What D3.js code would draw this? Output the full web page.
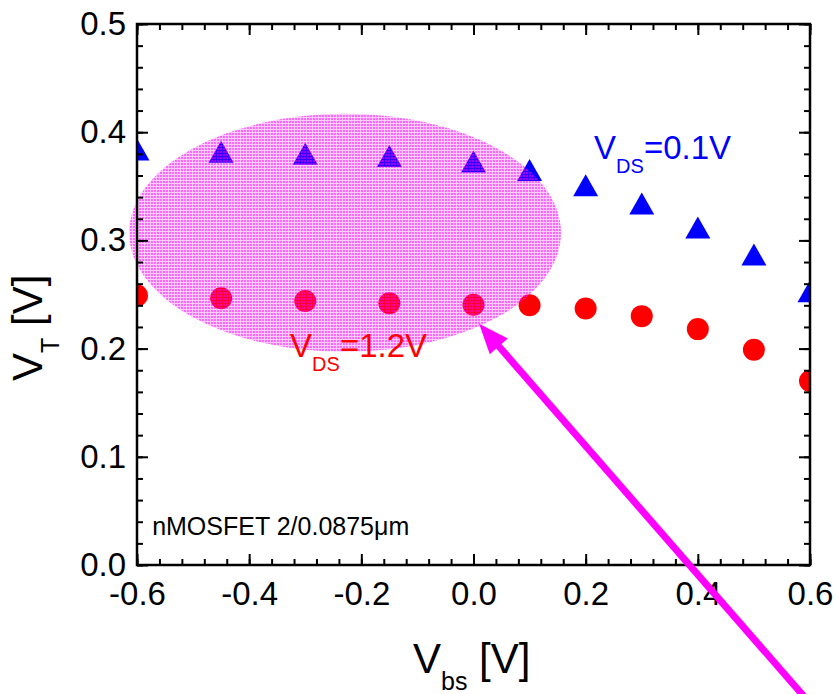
<!DOCTYPE html>
<html lang="en">
<head>
    <meta charset="UTF-8">
    <script src="https://d3js.org/d3.v7.min.js"></script>
    <title>VT vs Vbs</title>
    <style>
        body { margin: 0; background: #fff; }
        text { font-family: "Liberation Sans", Arial, sans-serif; }
    </style>
</head>
<body>
<svg class="chart"></svg>

<script>
    // body bias sweep and threshold voltages
    let vbs = [-0.6, -0.45, -0.3, -0.15, 0.0, 0.1, 0.2, 0.3, 0.4, 0.5, 0.6];
    let vtLowVds = [0.384, 0.382, 0.380, 0.378, 0.373, 0.365, 0.351, 0.334, 0.312, 0.287, 0.253];
    let vtHighVds = [0.249, 0.2465, 0.244, 0.242, 0.2405, 0.240, 0.237, 0.230, 0.218, 0.199, 0.170];

    let xTicks = [-0.6, -0.4, -0.2, 0.0, 0.2, 0.4, 0.6];
    let xTickLabels = ["-0.6", "-0.4", "-0.2", "0.0", "0.2", "0.4", "0.6"];
    let yTicks = [0.0, 0.1, 0.2, 0.3, 0.4, 0.5];
    let yTickLabels = ["0.0", "0.1", "0.2", "0.3", "0.4", "0.5"];

    // highlight ellipse and arrow, in data units
    let ellipse = {cx: -0.229, cy: 0.307, rx: 0.385, ry: 0.110};
    let arrowFrom = [0.612, -0.135];
    let arrowTo = [0.010, 0.223];

    let chart_width = 836, chart_height = 694;
    let plotLeft = 137, plotRight = 810, plotTop = 24, plotBottom = 565;

    let x = d3.scaleLinear().domain([-0.6, 0.6]).range([plotLeft, plotRight]);
    let y = d3.scaleLinear().domain([0, 0.5]).range([plotBottom, plotTop]);

    let svg = d3.select('.chart').attr('width', chart_width).attr('height', chart_height);

    let defs = svg.append('defs');
    defs.append('clipPath').attr('id', 'plotClip')
        .append('rect')
        .attr('x', plotLeft).attr('y', plotTop)
        .attr('width', plotRight - plotLeft).attr('height', plotBottom - plotTop);

    let mesh = defs.append('pattern').attr('id', 'mesh')
        .attr('patternUnits', 'userSpaceOnUse')
        .attr('width', 3).attr('height', 3);
    mesh.append('rect').attr('width', 3).attr('height', 3)
        .attr('fill', '#ff00ff').attr('fill-opacity', 0.2);
    mesh.append('rect').attr('x', 1).attr('y', 1).attr('width', 2).attr('height', 2)
        .attr('fill', '#ff00ff').attr('fill-opacity', 0.5);

    // markers
    let pts = svg.append('g').attr('clip-path', 'url(#plotClip)');
    let triW = 25, triH = 22;
    pts.selectAll('path.tri')
        .data(vbs)
        .enter()
        .append('path')
        .attr('class', 'tri')
        .attr('fill', '#0000ff')
        .attr('d', function (d, i) {
            let cx = x(d), cy = y(vtLowVds[i]);
            return 'M' + cx + ',' + (cy - triH / 2) +
                'L' + (cx + triW / 2) + ',' + (cy + triH / 2) +
                'L' + (cx - triW / 2) + ',' + (cy + triH / 2) + 'Z';
        });
    pts.selectAll('circle')
        .data(vbs)
        .enter()
        .append('circle')
        .attr('fill', '#ff0000')
        .attr('cx', function (d) { return x(d); })
        .attr('cy', function (d, i) { return y(vtHighVds[i]); })
        .attr('r', 11);

    // shaded ellipse
    svg.append('ellipse')
        .attr('cx', x(ellipse.cx)).attr('cy', y(ellipse.cy))
        .attr('rx', x(ellipse.cx + ellipse.rx) - x(ellipse.cx))
        .attr('ry', y(ellipse.cy) - y(ellipse.cy + ellipse.ry))
        .attr('fill', 'url(#mesh)');

    // axes, ticks pointing inwards on all four sides
    function minorTicks(step, lo, hi) {
        let out = [];
        for (let k = 0; lo + k * step <= hi + 1e-9; k++) out.push(+(lo + k * step).toFixed(4));
        return out;
    }
    let xMinor = minorTicks(0.04, -0.6, 0.6);
    let yMinor = minorTicks(0.02, 0, 0.5);

    function styleAxis(g) {
        g.select('.domain').remove();
        g.selectAll('line').attr('stroke', '#000').attr('stroke-width', 2);
        g.selectAll('text').attr('font-size', 33).attr('fill', '#000')
            .style('font-family', '"Liberation Sans", Arial, sans-serif');
    }

    svg.append('g').attr('transform', 'translate(0,' + plotBottom + ')')
        .call(d3.axisBottom(x).tickValues(xMinor).tickSize(-6).tickFormat(''))
        .call(styleAxis);
    svg.append('g').attr('transform', 'translate(0,' + plotBottom + ')')
        .call(d3.axisBottom(x).tickValues(xTicks).tickSize(-11).tickPadding(17)
            .tickFormat(function (d, i) { return xTickLabels[i]; }))
        .call(styleAxis);
    svg.append('g').attr('transform', 'translate(0,' + plotTop + ')')
        .call(d3.axisTop(x).tickValues(xMinor).tickSize(-6).tickFormat(''))
        .call(styleAxis);
    svg.append('g').attr('transform', 'translate(0,' + plotTop + ')')
        .call(d3.axisTop(x).tickValues(xTicks).tickSize(-11).tickFormat(''))
        .call(styleAxis);

    svg.append('g').attr('transform', 'translate(' + plotLeft + ',0)')
        .call(d3.axisLeft(y).tickValues(yMinor).tickSize(-6).tickFormat(''))
        .call(styleAxis);
    svg.append('g').attr('transform', 'translate(' + plotLeft + ',0)')
        .call(d3.axisLeft(y).tickValues(yTicks).tickSize(-11).tickPadding(11)
            .tickFormat(function (d, i) { return yTickLabels[i]; }))
        .call(styleAxis);
    svg.append('g').attr('transform', 'translate(' + plotRight + ',0)')
        .call(d3.axisRight(y).tickValues(yMinor).tickSize(-6).tickFormat(''))
        .call(styleAxis);
    svg.append('g').attr('transform', 'translate(' + plotRight + ',0)')
        .call(d3.axisRight(y).tickValues(yTicks).tickSize(-11).tickFormat(''))
        .call(styleAxis);

    svg.append('rect')
        .attr('x', plotLeft).attr('y', plotTop)
        .attr('width', plotRight - plotLeft).attr('height', plotBottom - plotTop)
        .attr('fill', 'none').attr('stroke', '#000').attr('stroke-width', 2.5);

    // axis titles
    let xTitle = svg.append('text')
        .attr('x', 413).attr('y', 673)
        .attr('font-size', 42).attr('fill', '#000');
    xTitle.append('tspan').text('V');
    xTitle.append('tspan').attr('font-size', 25).attr('dy', 17).text('bs');
    xTitle.append('tspan').attr('dy', -17).text(' [V]');

    let yTitle = svg.append('text')
        .attr('transform', 'translate(42,381) rotate(-90)')
        .attr('font-size', 42).attr('fill', '#000');
    yTitle.append('tspan').text('V');
    yTitle.append('tspan').attr('font-size', 25).attr('dy', 17).text('T');
    yTitle.append('tspan').attr('dy', -17).text(' [V]');

    // curve labels
    function vdsLabel(px, py, value, colour) {
        let t = svg.append('text')
            .attr('x', px).attr('y', py)
            .attr('font-size', 33).attr('fill', colour);
        t.append('tspan').text('V');
        t.append('tspan').attr('font-size', 20).attr('dy', 14).text('DS');
        t.append('tspan').attr('dy', -14).text('=' + value);
    }
    vdsLabel(x(0.215), y(0.375), '0.1V', '#0000ff');
    vdsLabel(x(-0.327), y(0.192), '1.2V', '#ff0000');

    let device = svg.append('text')
        .attr('x', x(-0.573)).attr('y', y(0.028))
        .attr('font-size', 25).attr('fill', '#000');
    device.append('tspan').text('nMOSFET 2/0.0875');
    device.append('tspan').text('\u03bcm');

    // arrow
    let ax0 = x(arrowFrom[0]), ay0 = y(arrowFrom[1]);
    let ax1 = x(arrowTo[0]), ay1 = y(arrowTo[1]);
    let len = Math.hypot(ax1 - ax0, ay1 - ay0);
    let ux = (ax1 - ax0) / len, uy = (ay1 - ay0) / len;
    let headLen = 30, headHalf = 12;
    let bx = ax1 - ux * headLen, by = ay1 - uy * headLen;
    svg.append('line')
        .attr('x1', ax0).attr('y1', ay0)
        .attr('x2', bx + ux * 2).attr('y2', by + uy * 2)
        .attr('stroke', '#ff00ff').attr('stroke-width', 7);
    svg.append('path')
        .attr('fill', '#ff00ff')
        .attr('d', 'M' + ax1 + ',' + ay1 +
            'L' + (bx - uy * headHalf) + ',' + (by + ux * headHalf) +
            'L' + (bx + uy * headHalf) + ',' + (by - ux * headHalf) + 'Z');
</script>
</body>
</html>
